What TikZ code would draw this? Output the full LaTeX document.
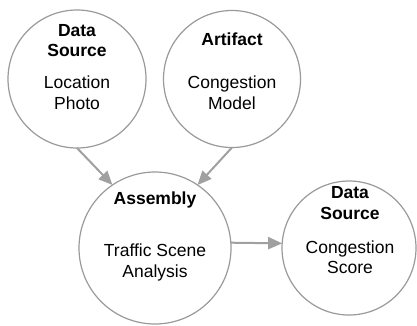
\documentclass[tikz,border=0pt]{standalone}
\usepackage{fontspec}
\setmainfont{Liberation Sans}
\usetikzlibrary{arrows.meta}
\definecolor{strokegray}{HTML}{9A9A9A}
\definecolor{arrowgray}{HTML}{A0A0A0}
\tikzset{
  circ/.style={circle, draw=strokegray, line width=1.2pt, fill=white, inner sep=0pt, outer sep=0pt},
  lbl/.style={anchor=base, inner sep=0pt, font=\fontsize{17.5}{20}\selectfont},
  bold/.style={lbl, font=\fontsize{17.5}{20}\selectfont\bfseries},
  conn/.style={draw=arrowgray, line width=2pt, -{Triangle[length=14pt,width=12pt]}}
}
\begin{document}
\begin{tikzpicture}[x=1pt,y=-1pt]
\useasboundingbox (0,0) rectangle (417,325);
\node[circ, minimum size=138pt] (c1) at (77,79) {};
\node[circ, minimum size=137pt] (c2) at (232,79) {};
\node[circ, minimum size=152pt] (c3) at (155,248) {};
\node[circ, minimum size=134pt] (c4) at (349,248) {};
\node[bold] (t1a) at (77,36) {Data};
\node[bold] (t1b) at (77,56) {Source};
\node[lbl] (t1c) at (77,88) {Location};
\node[lbl] (t1d) at (77,109) {Photo};
\node[bold] (t2a) at (232,45) {Artifact};
\node[lbl] (t2c) at (232,88) {Congestion};
\node[lbl] (t2d) at (232,109) {Model};
\node[bold] (t3a) at (155,204) {Assembly};
\node[lbl] (t3c) at (155,256) {Traffic Scene};
\node[lbl] (t3d) at (155,277) {Analysis};
\node[bold] (t4a) at (350,198) {Data};
\node[bold] (t4b) at (350,219) {Source};
\node[lbl] (t4c) at (350,253) {Congestion};
\node[lbl] (t4d) at (350,273) {Score};
\draw[conn] (c1.south) -- (c3.124);
\draw[conn] (c2.south) -- (c3.56);
\draw[conn] (c3.4) -- (c4.176);
\end{tikzpicture}
\end{document}
